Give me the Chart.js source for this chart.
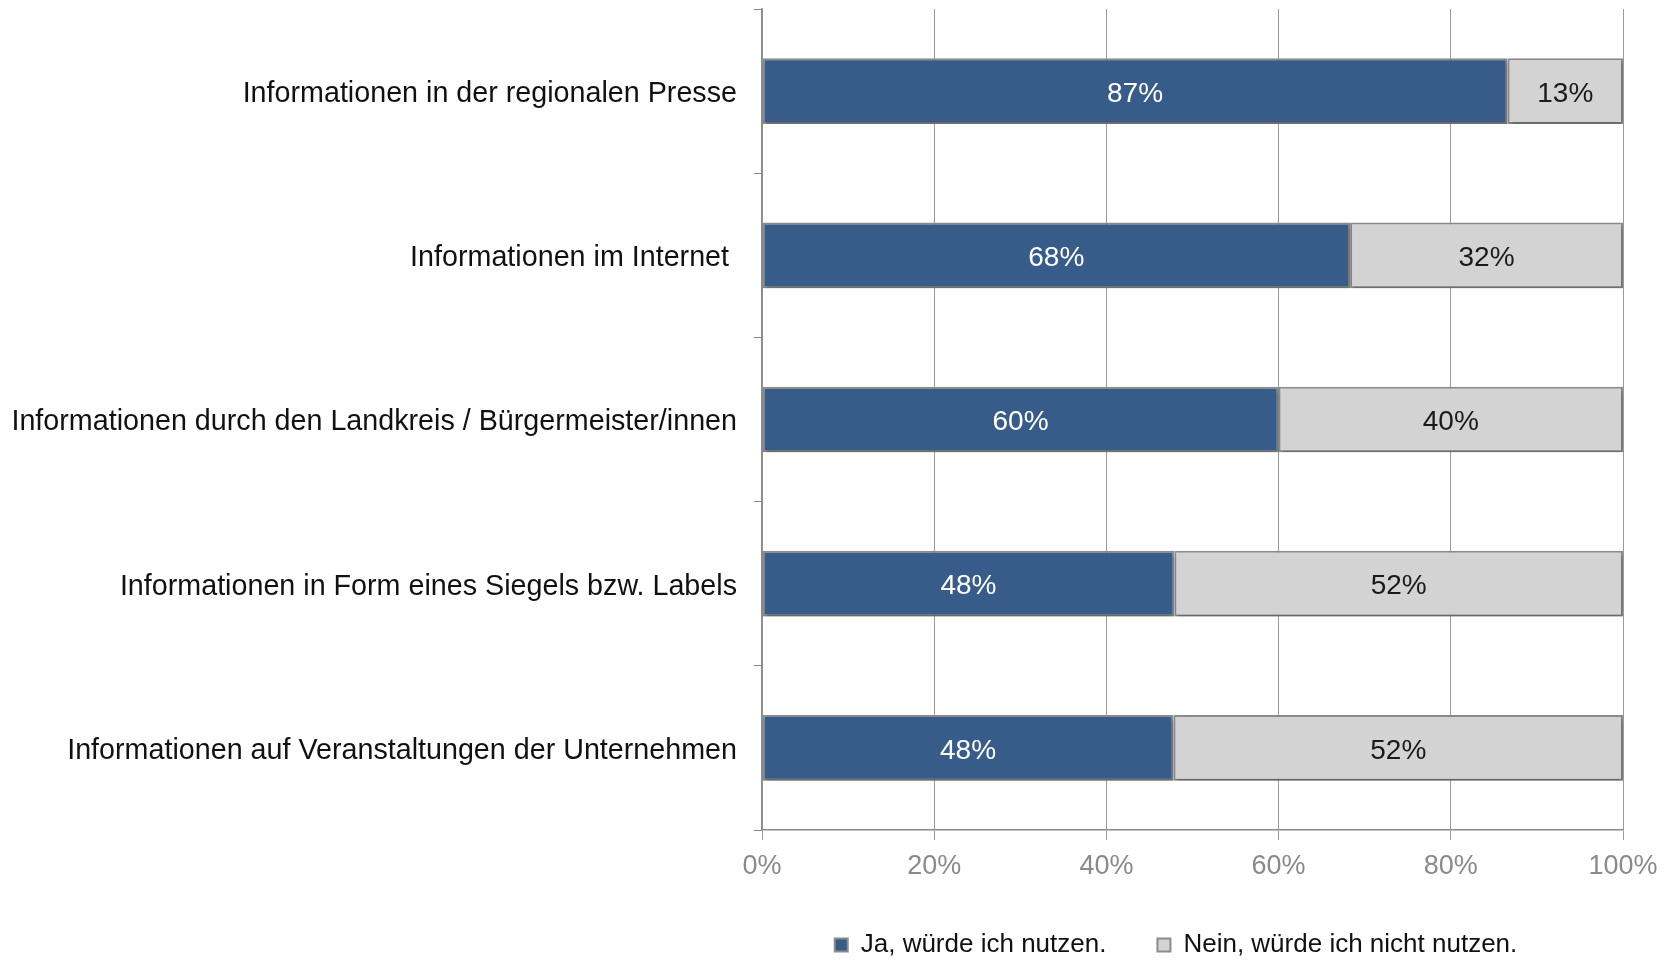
<!DOCTYPE html>
<html lang="de">
<head>
<meta charset="utf-8">
<title>Informationen – Nutzung</title>
<script src="https://cdn.jsdelivr.net/npm/chart.js@4/dist/chart.umd.min.js"></script>
<style>
  html, body { margin: 0; padding: 0; background: #fff; overflow: hidden; }
  #wrap { width: 1668px; height: 960px; position: relative; }
</style>
</head>
<body>
<div id="wrap"><canvas id="diag-info"></canvas></div>
<script>
// données
const categories = [
  'Informationen in der regionalen Presse',
  'Informationen im Internet ',
  'Informationen durch den Landkreis / Bürgermeister/innen',
  'Informationen in Form eines Siegels bzw. Labels',
  'Informationen auf Veranstaltungen der Unternehmen'
];
const jaValues = [86.6, 68.3, 60.0, 47.9, 47.8];
const neinValues = [13.4, 31.7, 40.0, 52.1, 52.2];
const seriesNames = ['Ja, würde ich nutzen.', 'Nein, würde ich nicht nutzen.'];
const xTicks = [0, 20, 40, 60, 80, 100];

const fontFamily = '"Liberation Sans", Arial, sans-serif';

// ombre sous les barres + étiquettes de valeur
const barPlugin = {
  id: 'barLabels',
  afterLayout(chart) {
    // les libellés de l'axe y débordent à gauche, on élargit la zone de clip
    chart.scales.y.left = 0;
  },
  beforeDatasetsDraw(chart) {
    const ctx = chart.ctx;
    ctx.save();
    ctx.shadowColor = 'rgba(0,0,0,0.28)';
    ctx.shadowBlur = 4;
    ctx.shadowOffsetX = 1;
    ctx.shadowOffsetY = 3;
  },
  afterDatasetsDraw(chart) {
    const ctx = chart.ctx;
    ctx.restore();
    ctx.save();
    ctx.font = '28px ' + fontFamily;
    ctx.textAlign = 'center';
    ctx.textBaseline = 'middle';
    chart.data.datasets.forEach((ds, i) => {
      const meta = chart.getDatasetMeta(i);
      ctx.fillStyle = i === 0 ? '#ffffff' : '#1a1a1a';
      meta.data.forEach((bar, j) => {
        const cx = (bar.x + bar.base) / 2;
        ctx.fillText(Math.round(ds.data[j]) + '%', cx, bar.y + 3);
      });
    });
    ctx.restore();
  }
};

const canvas = document.getElementById('diag-info');

new Chart(canvas, {
  type: 'bar',
  data: {
    labels: categories,
    datasets: [
      {
        label: seriesNames[0],
        data: jaValues,
        backgroundColor: '#375c89',
        borderColor: '#8c8c8c',
        borderWidth: 2,
        borderSkipped: false
      },
      {
        label: seriesNames[1],
        data: neinValues,
        backgroundColor: '#d3d3d3',
        borderColor: '#8c8c8c',
        borderWidth: 2,
        borderSkipped: false
      }
    ]
  },
  options: {
    indexAxis: 'y',
    responsive: true,
    maintainAspectRatio: false,
    animation: false,
    categoryPercentage: 1,
    barPercentage: 0.4,
    layout: { padding: { top: 9, right: 45, bottom: -8, left: 729 } },
    plugins: {
      tooltip: { enabled: false },
      legend: {
        position: 'bottom',
        align: 'center',
        labels: {
          boxWidth: 13,
          boxHeight: 13,
          padding: 51,
          color: '#111111',
          font: { family: fontFamily, size: 26 }
        }
      }
    },
    scales: {
      x: {
        stacked: true,
        min: 0,
        max: 100,
        afterBuildTicks(scale) {
          scale.ticks = xTicks.map(v => ({ value: v }));
        },
        afterFit(scale) { scale.height = 51; },
        grid: { color: '#9a9a9a', lineWidth: 1, tickLength: 10 },
        border: { color: '#8a8a8a', width: 1.5 },
        ticks: {
          padding: 10,
          color: '#8a8a8a',
          font: { family: fontFamily, size: 27 },
          callback: v => v + '%'
        }
      },
      y: {
        stacked: true,
        afterFit(scale) {
          scale.width = 33;
          scale.paddingTop = 0;
          scale.paddingBottom = 0;
        },
        grid: { offset: true, drawOnChartArea: false, color: '#8a8a8a', tickLength: 8 },
        border: { color: '#8a8a8a', width: 1.5 },
        ticks: {
          padding: 17,
          labelOffset: 3,
          color: '#111111',
          font: { family: fontFamily, size: 28.7 }
        }
      }
    }
  },
  plugins: [barPlugin]
});
</script>
</body>
</html>
